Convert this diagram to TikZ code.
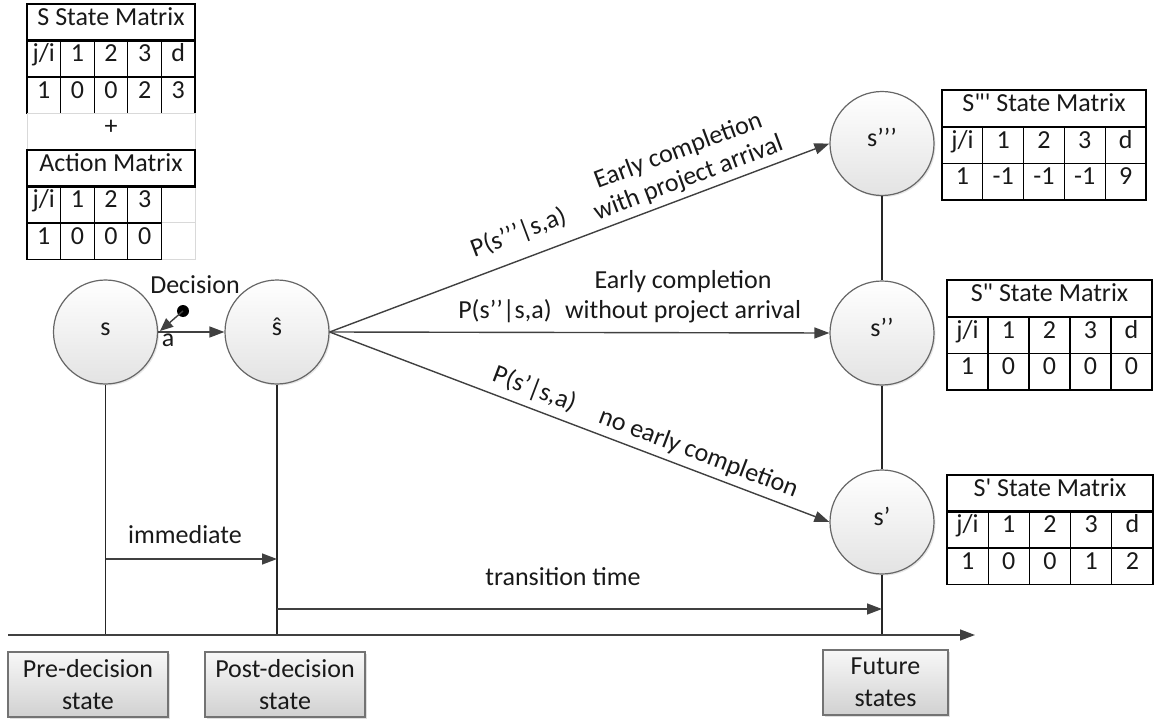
\documentclass[tikz,border=0pt]{standalone}
\usepackage{fontspec}
\newfontfamily\carlfont{Carlito}
\usetikzlibrary{arrows.meta,shadows}
\tikzset{
  every node/.style={font=\carlfont\fontsize{26}{29}\selectfont, text=black!90},
  lab/.style={inner sep=0, text height=0.64em, text depth=0em, anchor=center},
  statec/.style={circle, minimum size=104pt, inner sep=0, draw=black!60, line width=1.2pt,
    top color=white, bottom color=black!11,
    drop shadow={shadow xshift=1.5pt, shadow yshift=-1.5pt, opacity=0.2}},
  arr/.style={draw=black!75, line width=1.4pt, -{Triangle[length=15pt,width=11pt]}},
  plainline/.style={draw=black!85, line width=1.4pt},
  cellline/.style={draw=black, line width=1.3pt},
  titleline/.style={draw=black, line width=2.2pt},
  grayline/.style={draw=black!15, line width=1pt},
  statebox/.style={draw=black!55, line width=1.2pt, top color=black!3, bottom color=black!18,
    minimum width=160pt, minimum height=65pt, align=center, inner sep=0,
    drop shadow={shadow xshift=2pt, shadow yshift=-2pt, opacity=0.25}},
}
% #1 name, #2 x0, #3 y0, #4 column width, #5 row height, #6 title, #7 header, #8 data
\newcommand\mtab[8]{%
  \draw[cellline] (#2,#3+#5) rectangle ++(5*#4,2*#5);
  \draw[cellline] (#2,#3+2*#5) -- ++(5*#4,0);
  \foreach \k in {1,...,4} \draw[cellline] (#2+\k*#4,#3+#5) -- ++(0,2*#5);
  \draw[titleline] (#2,#3) rectangle ++(5*#4,#5);
  \node[lab] (#1-t) at (#2+2.5*#4,#3+0.5*#5) {#6};
  \foreach \t [count=\i from 0] in {#7}
    \node[lab] (#1-h\i) at (#2+\i*#4+0.5*#4,#3+1.5*#5) {\t};
  \foreach \t [count=\i from 0] in {#8}
    \node[lab] (#1-d\i) at (#2+\i*#4+0.5*#4,#3+2.5*#5) {\t};
}
\begin{document}
\begin{tikzpicture}[x=1pt,y=-1pt]
\useasboundingbox (0,0) rectangle (1162,722);

% ---------- left tables ----------
\mtab{S}{27}{4}{33.6}{36.5}{S State Matrix}{j/i,1,2,3,d}{1,0,0,2,3}
% plus row
\draw[grayline] (27,113.5) rectangle (195,150);
\node[lab] (plus) at (111,131.5) {+};
% action matrix
\draw[grayline] (161.4,186.5) rectangle (195,259.5);
\draw[grayline] (161.4,223) -- (195,223);
\draw[cellline] (27,186.5) rectangle (161.4,259.5);
\draw[cellline] (27,223) -- (161.4,223);
\foreach \k in {1,2,3} \draw[cellline] (27+\k*33.6,186.5) -- (27+\k*33.6,259.5);
\draw[titleline] (27,150) rectangle (195,186.5);
\node[lab] (A-t) at (111,168.25) {Action Matrix};
\foreach \t [count=\i from 0] in {j/i,1,2,3}
  \node[lab] (A-h\i) at (27+\i*33.6+16.8,204.75) {\t};
\foreach \t [count=\i from 0] in {1,0,0,0}
  \node[lab] (A-d\i) at (27+\i*33.6+16.8,241.25) {\t};

% ---------- right tables ----------
\mtab{S3}{942}{90}{40.8}{36.7}{S"' State Matrix}{j/i,1,2,3,d}{1,-1,-1,-1,9}
\mtab{S2}{947}{280}{41}{36.7}{S" State Matrix}{j/i,1,2,3,d}{1,0,0,0,0}
\mtab{S1}{947}{475}{41.2}{36.5}{S' State Matrix}{j/i,1,2,3,d}{1,0,0,1,2}

% ---------- axis & coordinates ----------
\coordinate (ax0) at (8,635);
\coordinate (ax1) at (975,635);
\coordinate (im0) at (105.5,559);
\coordinate (tt0) at (277,609);

% ---------- circles ----------
\node[statec] (s)  at (105.5,332) {};
\node[statec] (sh) at (277,332) {};
\node[statec] (s3) at (882,143.5) {};
\node[statec] (s2) at (882,333) {};
\node[statec] (s1) at (882,522) {};
\node[lab] (ls)  at (s)  {s};
\node[lab] (lsh) at (sh) {\^s};
\node[lab] (ls3) at (s3) {s’’’};
\node[lab] (ls2) at (s2) {s’’};
\node[lab] (ls1) at (s1) {s’};

% ---------- vertical lines ----------
\draw[plainline] (s.south) -- (s.south |- ax0);
\draw[plainline] (sh.south) -- (sh.south |- ax0);
\draw[plainline] (s3.south) -- (s2.north);
\draw[plainline] (s2.south) -- (s1.north);
\draw[plainline] (s1.south) -- (s1.south |- ax0);
\draw[arr] (ax0) -- (ax1);

% ---------- time arrows ----------
\draw[arr] (im0) -- (im0 -| sh.south);
\node[lab] (imm) at (185,540) {immediate};
\draw[arr] (tt0) -- (tt0 -| s1.south);
\node[lab] (trt) at (563,582) {transition time};

% ---------- decision ----------
\draw[arr] (s.east) -- (sh.west);
\coordinate (dot) at (183,311);
\coordinate (dtip) at (160,331);
\fill[black] (dot) circle (6pt);
\draw[arr, -{Triangle[length=13pt,width=11pt]}] (dot) -- (dtip);
\node[lab] (dec) at (195,290) {Decision};
\node[lab] (la) at (168,343) {a};

% ---------- transitions ----------
\draw[arr] (sh.east) -- (s3.west);
\draw[arr] (sh.east) -- (s2.west);
\draw[arr] (sh.east) -- (s1.west);
\node[lab, rotate=20.6] (p3) at (520,237) {P(s’’’|s,a)};
\node[rotate=20.6, align=center, inner sep=0] (e3) at (683.5,165) {Early completion\\with project arrival};
\node[lab] (e2a) at (683,285) {Early completion};
\node[lab] (p2) at (505,315) {P(s’’|s,a)};
\node[lab] (e2b) at (683,315) {without project arrival};
\node[lab, rotate=-20.8] (p1) at (533,393) {P(s’|s,a)};
\node[lab, rotate=-20.8] (e1) at (697,457) {no early completion};

% ---------- bottom boxes ----------
\node[statebox] (pre)  at (88,684.5)  {Pre-decision\\[3pt]state};
\node[statebox] (post) at (285,684.5) {Post-decision\\[3pt]state};
\node[statebox, minimum width=125pt] (fut) at (885.5,682.5) {Future\\[3pt]states};
\end{tikzpicture}
\end{document}
